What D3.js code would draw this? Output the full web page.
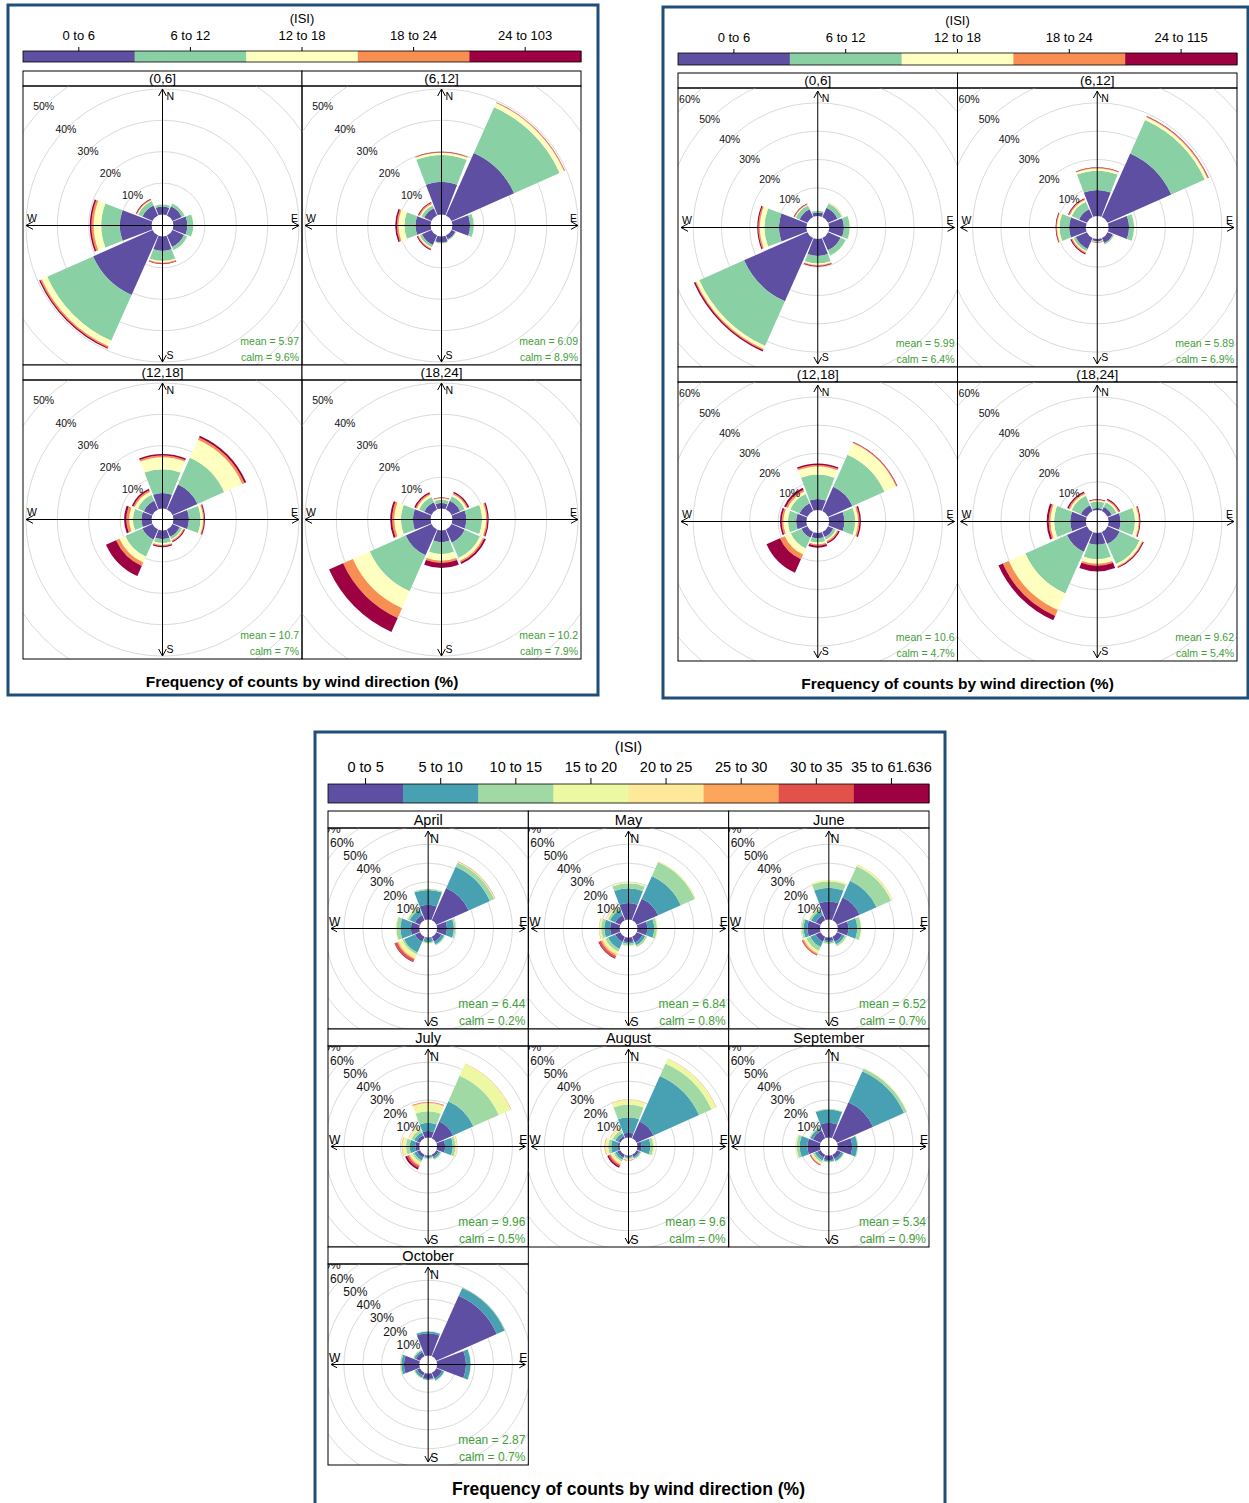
<!DOCTYPE html>
<html>
<head>
<meta charset="utf-8">
<title>Wind roses of ISI</title>
<style>
  body { margin: 0; background: #fff; }
  svg { display: block; font-family: "Liberation Sans", Arial, sans-serif; }
</style>
</head>
<body>
<svg id="chart" width="1249" height="1503"></svg>
<script src="https://d3js.org/d3.v7.min.js"></script>
<script>
// ---- data -------------------------------------------------------------
const dirs = ["N", "NE", "E", "SE", "S", "SW", "W", "NW"];
const dirAngle = [0, 45, 90, 135, 180, 225, 270, 315];

const binsA = ["0 to 6", "6 to 12", "12 to 18", "18 to 24", "24 to 103"];
const binsB = ["0 to 6", "6 to 12", "12 to 18", "18 to 24", "24 to 115"];
const binsC = ["0 to 5", "5 to 10", "10 to 15", "15 to 20", "20 to 25", "25 to 30", "30 to 35", "35 to 61.636"];

const hourStrips = ["(0,6]", "(6,12]", "(12,18]", "(18,24]"];
const monthStrips = ["April", "May", "June", "July", "August", "September", "October"];

// % of counts per direction (N, NE, E, SE, S, SW, W, NW), one value per ISI bin
const aH1 = [[2.5,0.7,0.1,0,0],[3.2,1.0,0.1,0,0],[4.4,1.9,0.1,0,0],[4.0,1.1,0.1,0,0],
             [4.6,3.2,0.5,0.3,0.2],[20.7,16.0,1.9,0.5,0.4],[10.1,5.9,2.4,0.7,0.5],[3.5,1.5,0.3,0.3,0.2]];
const aH2 = [[10.4,8.5,0.7,0.2,0.1],[21.8,15.9,1.5,0.2,0.1],[5.6,1.2,0.1,0,0],[1.3,0.3,0.1,0,0],
             [1.9,0.3,0.1,0,0],[3.3,0.8,0.4,0.3,0.3],[4.8,3.5,1.9,0.5,0.5],[2.5,1.0,0.5,0.4,0.3]];
const aH3 = [[4.9,7.6,3.8,0.5,0.5],[8.7,9.3,6.3,0.8,0.6],[4.9,3.7,0.8,0.3,0.3],[2.5,0.8,0.4,0.35,0.35],
             [2.7,1.3,0.6,0.35,0.35],[3.5,6.0,2.0,1.2,3.5],[3.2,2.7,1.2,0.9,0.7],[3.0,2.1,1.1,0.5,0.5]];
const aH4 = [[1.7,1.1,0.4,0.2,0.2],[3.0,1.6,0.7,0.4,0.5],[4.4,5.0,1.3,0.4,0.4],[4.6,5.3,1.0,0.5,0.6],
             [3.7,3.8,2.1,0.7,1.6],[9.0,12.5,5.9,3.4,4.9],[5.6,3.8,2.1,0.7,0.6],[2.5,1.8,0.8,0.45,0.45]];
const aMean = ["5.97", "6.09", "10.7", "10.2"];
const aCalm = ["9.6%", "8.9%", "7%", "7.9%"];

const bH1 = [[1.3,0.6,0.1,0,0],[3.6,1.7,0.2,0.1,0],[5.2,2.1,0.2,0,0],[4.8,2.0,0.2,0,0],
             [6.0,2.7,0.5,0.3,0.3],[24.5,17.3,1.2,0.4,0.5],[9.7,5.1,1.6,0.5,0.4],[3.0,1.5,0.3,0.3,0.2]];
const bH2 = [[9.2,6.8,0.8,0.2,0.2],[24.6,13.0,1.0,0.3,0.2],[7.2,1.8,0.2,0,0],[2.0,0.5,0.1,0,0],
             [0.8,0.3,0.1,0.1,0.1],[4.3,0.9,0.4,0.4,0.4],[5.9,3.4,0.9,0.25,0.25],[3.0,2.9,0.7,0.35,0.35]];
const bH3 = [[3.9,8.6,2.9,0.5,0.5],[9.4,12.4,4.5,0.3,0.2],[5.4,3.8,1.0,0.5,0.5],[2.0,1.0,0.5,0.5,0.5],
             [1.9,1.5,0.6,0.5,0.7],[2.3,4.1,2.3,1.9,5.2],[3.6,2.9,1.6,0.6,0.6],[3.0,3.6,1.0,0.7,0.7]];
const bH4 = [[0.7,2.3,0.4,0.25,0.25],[1.6,1.8,0.6,0.4,0.4],[4.2,5.1,1.3,0.3,0.3],[4.7,7.7,0.9,0.35,0.35],
             [4.2,5.1,1.6,0.7,2.0],[7.7,16.1,6.4,2.3,1.7],[5.5,5.7,1.3,0.6,0.7],[2.3,3.6,0.7,0.5,0.5]];
const bMean = ["5.99", "5.89", "10.6", "9.62"];
const bCalm = ["6.4%", "6.9%", "4.7%", "5.4%"];

const cApr = [[7.8,7.9,0.6,0.1,0,0,0,0],[18.8,12.4,2.5,0.3,0.1,0.1,0.1,0],[5.2,3.7,0.8,0.1,0,0,0,0],
              [2.9,1.6,0.5,0,0,0,0,0],[0.8,1.7,0.6,0.2,0,0,0,0],[2.9,6.3,1.0,1.8,0.7,0.6,1.3,0.3],
              [4.4,5.6,2.1,0.4,0.1,0,0,0],[2.9,3.1,1.1,0.4,0.2,0,0,0]];
const cMay = [[8.7,7.9,2.6,0.5,0,0,0,0],[12.5,13.2,8.2,0.4,0.2,0,0,0],[5.2,3.7,1.4,0.4,0.1,0,0,0],
              [3.4,1.6,1.0,0.2,0,0,0,0],[2.5,0.9,0.9,0.3,0,0,0,0],[2.9,4.2,1.6,1.0,0.8,0.8,1.1,0.4],
              [5.0,3.1,1.6,0.8,0.3,0.2,0,0],[2.9,3.1,1.1,0.8,0.3,0.2,0,0]];
const cJun = [[9.6,7.3,3.2,0.8,0.2,0,0,0],[13.2,9.8,8.5,0.7,0.2,0.1,0,0],[5.6,4.7,2.0,0.3,0.1,0,0,0],
              [2.9,1.6,1.0,0.2,0,0,0,0],[1.7,0.8,0.9,0.2,0,0,0,0],[2.9,3.1,2.2,1.0,0.5,0.6,0.5,0.2],
              [6.6,2.0,1.0,0.3,0,0,0,0],[2.9,2.6,1.1,0.4,0.1,0,0,0]];
const cJul = [[3.4,4.4,6.1,3.9,0.5,0.3,0.2,0],[9.7,11.9,14.8,6.7,0.3,0.1,0.1,0],[4.2,4.1,1.4,0.6,0.3,0.2,0,0],
              [1.3,1.0,0.6,0.2,0,0,0,0],[0.8,0.5,0.4,0.2,0,0,0,0],[1.8,1.6,1.0,1.1,0.5,0.6,1.0,1.1],
              [2.0,3.0,2.0,1.5,0.5,0.3,0,0],[1.8,1.6,1.6,1.0,0.5,0.2,0,0]];
const cAug = [[2.5,8.3,6.7,2.1,0.5,0.2,0,0],[9.7,26.6,7.3,2.4,0.3,0.1,0.1,0],[2.2,4.6,1.5,0.6,0.2,0,0,0],
              [1.3,0.8,0.5,0.2,0,0,0,0],[0.8,0.5,0.5,0.3,0.2,0.2,0.2,0],[1.8,1.1,1.0,1.0,0.6,0.5,0.8,0.8],
              [1.0,3.4,1.6,1.0,0.6,0.4,0,0],[1.3,1.6,1.6,0.9,0.5,0.2,0,0]];
const cSep = [[7.8,7.0,0.5,0.1,0,0,0,0],[21.0,18.0,1.6,0.2,0.1,0,0,0],[7.6,2.7,0.4,0.1,0,0,0,0],
              [2.4,1.3,0.5,0.1,0,0,0,0],[2.5,0.7,0.4,0.1,0,0,0,0],[1.8,1.6,1.1,0.5,0.5,0.3,0.3,0.2],
              [6.6,4.1,1.6,0.4,0.2,0.1,0,0],[4.5,1.5,0.6,0.2,0,0,0,0]];
const cOct = [[11.8,0.9,0.2,0,0,0,0,0],[35.2,4.6,0.2,0,0,0,0,0],[15.3,2.4,0.2,0,0,0,0,0],
              [3.4,1.1,0.2,0,0,0,0,0],[2.9,0.5,0.2,0,0,0,0,0],[1.8,1.1,0.5,0.2,0,0,0,0],
              [8.1,1.4,0.5,0.2,0,0,0,0],[2.4,1.0,0.5,0.2,0,0,0,0]];
const cMean = ["6.44", "6.84", "6.52", "9.96", "9.6", "5.34", "2.87"];
const cCalm = ["0.2%", "0.8%", "0.7%", "0.5%", "0%", "0.9%", "0.7%"];

const rings = [10, 20, 30, 40, 50, 60, 70];

// openair "default" palette: Spectral, low = purple
const spectral11 = ["#5E4FA2","#3288BD","#66C2A5","#ABDDA4","#E6F598","#FFFFBF",
                    "#FEE08B","#FDAE61","#F46D43","#D53E4F","#9E0142"];
const colorsFor = n => d3.quantize(d3.piecewise(d3.interpolateRgb, spectral11), n);

// ---- drawing ----------------------------------------------------------
const svg = d3.select("#chart");
const rad = d => d * Math.PI / 180;
let clipId = 0;

function drawFigure(fig) {
  const g = svg.append("g");
  g.append("rect")
      .attr("x", fig.box[0]).attr("y", fig.box[1])
      .attr("width", fig.box[2]).attr("height", fig.box[3])
      .attr("fill", "#fff").attr("stroke", "#1f4e79").attr("stroke-width", 3);

  const colors = colorsFor(fig.bins.length);

  // colour key
  const kx = d3.scaleBand().domain(fig.bins).range([fig.left, fig.left + fig.width]);
  const key = g.append("g");
  key.selectAll("rect").data(fig.bins).join("rect")
      .attr("x", d => kx(d)).attr("y", fig.key.y)
      .attr("width", kx.bandwidth() + 0.5).attr("height", fig.key.h)
      .attr("fill", (d, i) => colors[i]);
  key.append("rect")
      .attr("x", fig.left).attr("y", fig.key.y)
      .attr("width", fig.width).attr("height", fig.key.h)
      .attr("fill", "none").attr("stroke", "#000").attr("stroke-width", 0.8);
  key.selectAll("line").data(fig.bins).join("line")
      .attr("x1", d => kx(d) + kx.bandwidth() / 2).attr("x2", d => kx(d) + kx.bandwidth() / 2)
      .attr("y1", fig.key.y).attr("y2", fig.key.y - fig.key.tick)
      .attr("stroke", "#000");
  key.selectAll("text.lab").data(fig.bins).join("text").attr("class", "lab")
      .attr("x", d => kx(d) + kx.bandwidth() / 2).attr("y", fig.key.labY)
      .attr("text-anchor", "middle").style("font-size", fig.key.font + "px")
      .text(d => d);
  key.append("text")
      .attr("x", fig.left + fig.width / 2).attr("y", fig.key.titleY)
      .attr("text-anchor", "middle").style("font-size", fig.key.font + "px")
      .text("(ISI)");

  fig.panels.forEach((p, i) => drawRose(g, fig, p, i, colors));

  g.append("text")
      .attr("x", fig.left + fig.width / 2).attr("y", fig.titleY)
      .attr("text-anchor", "middle")
      .style("font-size", fig.titleFont + "px").style("font-weight", "bold")
      .text("Frequency of counts by wind direction (%)");
}

function drawRose(g, fig, p, i, colors) {
  const cellW = fig.width / fig.ncol;
  const col = i % fig.ncol, row = Math.floor(i / fig.ncol);
  const x0 = fig.left + col * cellW;
  const sy = fig.top + row * (fig.stripH + fig.plotH);
  const y0 = sy + fig.stripH;
  const x1 = x0 + cellW, y1 = y0 + fig.plotH;
  const cx = x0 + cellW / 2, cy = y0 + fig.plotH / 2;
  const r = fig.r;
  const t = fig.text;

  // strip
  g.append("rect").attr("x", x0).attr("y", sy).attr("width", cellW).attr("height", fig.stripH)
      .attr("fill", "#fff").attr("stroke", "#000").attr("stroke-width", 1);
  g.append("text").attr("x", cx).attr("y", sy + fig.stripH / 2).attr("dy", "0.36em")
      .attr("text-anchor", "middle").style("font-size", fig.stripFont + "px")
      .text(p.strip);

  const id = "clip" + (clipId++);
  g.append("clipPath").attr("id", id).append("rect")
      .attr("x", x0).attr("y", y0).attr("width", cellW).attr("height", fig.plotH);
  const pg = g.append("g").attr("clip-path", `url(#${id})`);

  // grid circles
  pg.selectAll("circle").data(rings).join("circle")
      .attr("cx", cx).attr("cy", cy).attr("r", d => r(d))
      .attr("fill", "none").attr("stroke", "#dadada").attr("stroke-width", 1);

  // stacked sectors
  const arc = d3.arc();
  const segs = [];
  p.values.forEach((vals, di) => {
    let cum = 0;
    vals.forEach((v, bi) => {
      if (v > 0) segs.push({ a: dirAngle[di], lo: cum, hi: cum + v, bin: bi });
      cum += v;
    });
  });
  pg.append("g").attr("transform", `translate(${cx},${cy})`)
    .selectAll("path").data(segs).join("path")
      .attr("d", d => arc({
        innerRadius: r(d.lo), outerRadius: r(d.hi),
        startAngle: rad(d.a - 21), endAngle: rad(d.a + 21)
      }))
      .attr("fill", d => colors[d.bin]);

  // axes with open arrow heads at both ends
  const Lx = cellW / 2 - 3, Ly = fig.plotH / 2 - 3, a = fig.arrow, b = a * 0.55;
  const ax = d3.path();
  ax.moveTo(cx, cy - Ly); ax.lineTo(cx, cy + Ly);
  ax.moveTo(cx - Lx, cy); ax.lineTo(cx + Lx, cy);
  [[cx, cy - Ly, 0, 1], [cx, cy + Ly, 0, -1], [cx - Lx, cy, 1, 0], [cx + Lx, cy, -1, 0]]
    .forEach(([px, py, ux, uy]) => {
      ax.moveTo(px + ux * a - uy * b, py + uy * a + ux * b);
      ax.lineTo(px, py);
      ax.lineTo(px + ux * a + uy * b, py + uy * a - ux * b);
    });
  pg.append("path").attr("d", ax.toString())
      .attr("fill", "none").attr("stroke", "#000").attr("stroke-width", 1);

  const lab = (x, y, s, anchor) => pg.append("text").attr("x", x).attr("y", y)
      .attr("text-anchor", anchor).style("font-size", t.font + "px").text(s);
  lab(cx + t.nsDx, y0 + t.nDy, "N", "start");
  lab(cx + t.nsDx, y1 - t.sDy, "S", "start");
  lab(x0 + t.weDx, cy - t.weDy, "W", "start");
  lab(x1 - t.weDx, cy - t.weDy, "E", "end");

  // percentage labels along the NW diagonal (only those whose centre is inside the panel)
  const shown = rings.filter(d => cx - r(d) * Math.SQRT1_2 >= x0 && cy - r(d) * Math.SQRT1_2 >= y0);
  pg.selectAll("text.pct").data(shown).join("text").attr("class", "pct")
      .attr("x", d => cx - r(d) * Math.SQRT1_2)
      .attr("y", d => cy - r(d) * Math.SQRT1_2)
      .attr("dy", "0.35em").attr("text-anchor", "middle")
      .style("font-size", t.pctFont + "px").attr("fill", "#111")
      .text(d => d + "%");

  // statistics
  pg.append("text").attr("x", x1 - 3).attr("y", y1 - t.meanDy)
      .attr("text-anchor", "end").style("font-size", t.statFont + "px").attr("fill", "#3f9e3a")
      .text("mean = " + p.mean);
  pg.append("text").attr("x", x1 - 3).attr("y", y1 - t.calmDy)
      .attr("text-anchor", "end").style("font-size", t.statFont + "px").attr("fill", "#3f9e3a")
      .text("calm = " + p.calm);

  // panel border
  g.append("rect").attr("x", x0).attr("y", y0).attr("width", cellW).attr("height", fig.plotH)
      .attr("fill", "none").attr("stroke", "#000").attr("stroke-width", 1);
}

const smallText = { font: 10.5, pctFont: 10.5, statFont: 10.5, nsDx: 4, nDy: 14, sDy: 6,
                    weDx: 4, weDy: 4, meanDy: 20, calmDy: 4 };

drawFigure({
  box: [8, 5, 590, 690], left: 23, width: 558, top: 71, ncol: 2, stripH: 15, plotH: 279,
  bins: binsA, key: { y: 51, h: 11, tick: 4, labY: 40, titleY: 23, font: 13 },
  r: d3.scaleLinear().domain([0, 10]).range([11, 42.4]),
  stripFont: 13.5, arrow: 7, text: smallText, titleY: 687, titleFont: 15.5,
  panels: [aH1, aH2, aH3, aH4].map((v, i) => ({ values: v, strip: hourStrips[i], mean: aMean[i], calm: aCalm[i] }))
});

drawFigure({
  box: [663, 7, 585, 691], left: 678, width: 559, top: 73, ncol: 2, stripH: 15, plotH: 279,
  bins: binsB, key: { y: 53, h: 12, tick: 4, labY: 42, titleY: 25, font: 13 },
  r: d3.scaleLinear().domain([0, 10]).range([11.4, 39.7]),
  stripFont: 13.5, arrow: 7, text: smallText, titleY: 689, titleFont: 15.5,
  panels: [bH1, bH2, bH3, bH4].map((v, i) => ({ values: v, strip: hourStrips[i], mean: bMean[i], calm: bCalm[i] }))
});

drawFigure({
  box: [315, 732, 630, 790], left: 328, width: 601, top: 811, ncol: 3, stripH: 17, plotH: 201,
  bins: binsC, key: { y: 784, h: 19, tick: 6, labY: 772, titleY: 752, font: 14.5 },
  r: d3.scaleLinear().domain([0, 10]).range([9, 27.8]),
  stripFont: 14.5, arrow: 6,
  text: { font: 12, pctFont: 12, statFont: 12, nsDx: 2, nDy: 15, sDy: 3,
          weDx: 1, weDy: 3, meanDy: 21, calmDy: 4 },
  titleY: 1495, titleFont: 17.5,
  panels: [cApr, cMay, cJun, cJul, cAug, cSep, cOct].map((v, i) => ({ values: v, strip: monthStrips[i], mean: cMean[i], calm: cCalm[i] }))
});
</script>
</body>
</html>
